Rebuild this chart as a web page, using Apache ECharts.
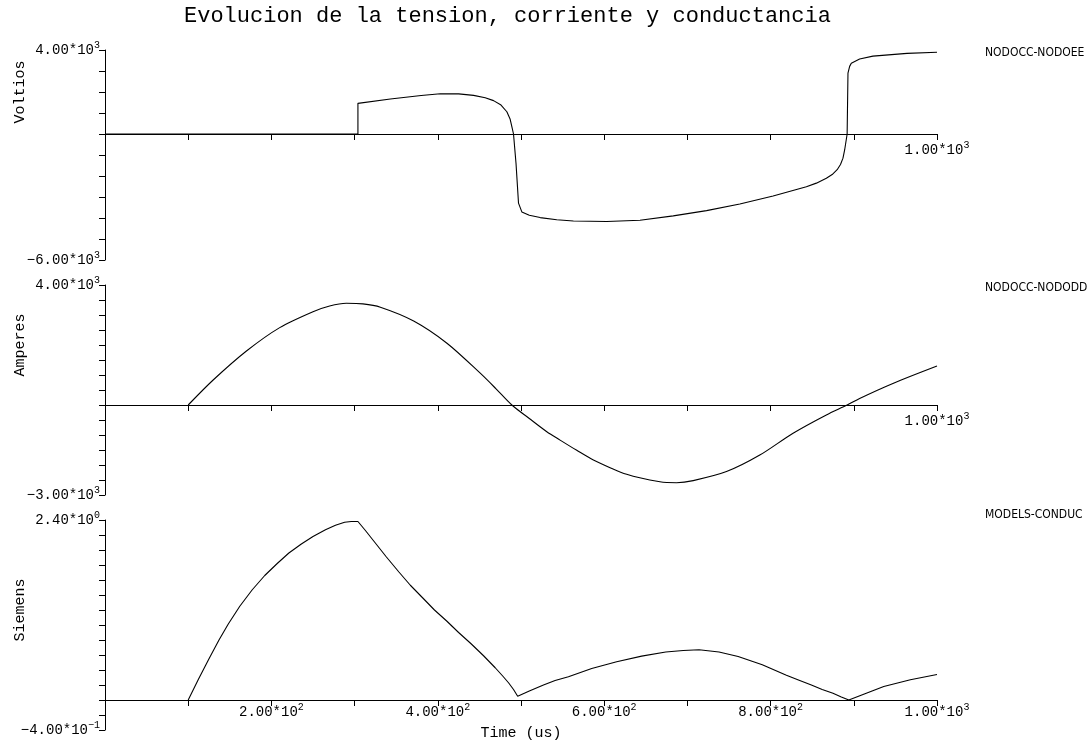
<!DOCTYPE html>
<html>
<head>
<meta charset="utf-8">
<script src="https://cdn.jsdelivr.net/npm/echarts@6/dist/echarts.min.js"></script>
<style>
  html, body { margin: 0; padding: 0; background: #fff; }
  #chart { width: 1090px; height: 744px; }
</style>
</head>
<body>
<div id="chart"></div>
<script>
// tension NODOCC-NODOEE (V) vs time (us)
var voltT = [0, 304, 304, 343, 380, 403, 425, 443, 457, 467, 476, 483, 487, 489, 491, 494, 497, 501, 510, 523, 543, 563, 603, 643, 683, 723, 763, 803, 843, 855, 867, 874, 880, 884, 887, 889, 892, 893, 895, 897, 907, 923, 964, 1000];
var voltV = [0, 0, 1460, 1670, 1830, 1920, 1910, 1840, 1730, 1590, 1380, 1060, 700, 350, 0, -1390, -3290, -3710, -3870, -3980, -4080, -4140, -4170, -4110, -3900, -3650, -3330, -2950, -2510, -2340, -2110, -1930, -1700, -1450, -1150, -760, 0, 2900, 3220, 3370, 3570, 3710, 3840, 3890];

// corriente NODOCC-NODODD (A)
var curT = [100, 130, 170, 210, 250, 270, 290, 310, 331, 371, 411, 451, 470, 489, 510, 531, 547, 567, 587, 627, 667, 687, 707, 747, 787, 827, 867, 892, 907, 947, 1000];
var curI = [0, 833, 1800, 2580, 3110, 3300, 3390, 3370, 3260, 2800, 2060, 1060, 540, 0, -450, -890, -1170, -1510, -1830, -2310, -2560, -2590, -2520, -2220, -1670, -940, -330, 0, 220, 720, 1300];

// conductancia MODELS-CONDUC (S)
var condT = [100, 112, 125, 137, 148, 162, 177, 192, 207, 221, 236, 250, 265, 277, 288, 296, 304,
  313, 323, 338, 353, 367, 382, 396, 411, 425, 440, 455, 469, 478, 485, 491, 496,
  510, 527, 541, 557, 585, 615, 645, 674, 695, 714, 738, 761, 790, 819, 835, 849, 862, 875, 885, 894,
  915, 936, 968, 1000];
var condG = [0, 0.27, 0.55, 0.8, 1.01, 1.25, 1.47, 1.66, 1.82, 1.96, 2.08, 2.18, 2.27, 2.33, 2.37, 2.38, 2.38,
  2.26, 2.12, 1.91, 1.71, 1.53, 1.36, 1.2, 1.05, 0.9, 0.75, 0.59, 0.43, 0.32, 0.23, 0.14, 0.05,
  0.12, 0.2, 0.26, 0.31, 0.42, 0.51, 0.585, 0.64, 0.66, 0.67, 0.64, 0.58, 0.47, 0.33, 0.26, 0.2, 0.14, 0.09, 0.04, 0.0,
  0.09, 0.18, 0.27, 0.34];

var panels = [
  { name: 'Voltios', tag: 'NODOCC-NODOEE', min: -6000, max: 4000, step: 1000, t: voltT, v: voltV },
  { name: 'Amperes', tag: 'NODOCC-NODODD', min: -3000, max: 4000, step: 500, t: curT, v: curI },
  { name: 'Siemens', tag: 'MODELS-CONDUC', min: -0.4, max: 2.4, step: 0.2, t: condT, v: condG }
];
var gridTops = [50, 285, 520];
var gridH = 210;
var nameY = [92, 345, 610];
var tagY = [53, 288, 515];

var MONO = '"Liberation Mono", "DejaVu Sans Mono", monospace';
var rich = {
  b: { fontFamily: MONO, fontSize: 14, color: '#000' },
  s: { fontFamily: MONO, fontSize: 10, color: '#000', padding: [0, 0, 10, 0] }
};

function sci(v) {
  var e = Math.floor(Math.log10(Math.abs(v)) + 1e-9);
  var m = (v / Math.pow(10, e)).toFixed(2).replace('-', '\u2212');
  return '{b|' + m + '*10}{s|' + String(e).replace('-', '\u2212') + '}';
}

function pairs(t, v) {
  return t.map(function (x, i) { return [x, v[i]]; });
}

var chart = echarts.init(document.getElementById('chart'));

var grids = [], xAxes = [], yAxes = [], series = [], graphics = [];
panels.forEach(function (p, i) {
  // distance from grid bottom up to the zero line
  var zeroUp = gridH * (0 - p.min) / (p.max - p.min);
  grids.push({ left: 105, right: 153, top: gridTops[i], height: gridH, outerBoundsMode: 'none', containLabel: false });
  xAxes.push({
    type: 'value', gridIndex: i, min: 0, max: 1000, interval: 100,
    position: 'bottom', offset: -zeroUp,
    axisLine: { onZero: false, lineStyle: { color: '#000', width: 1 } },
    axisTick: { length: 6, lineStyle: { color: '#000' } },
    splitLine: { show: false },
    axisLabel: {
      margin: i === 2 ? 2 : 6,
      rich: rich,
      formatter: function (v) {
        if (i === 2) return (v > 0 && v % 200 === 0) ? sci(v) : '';
        return v === 1000 ? sci(v) : '';
      }
    },
    name: i === 2 ? 'Time (us)' : '',
    nameLocation: 'middle', nameGap: 26,
    nameTextStyle: { fontFamily: MONO, fontSize: 15, color: '#000' }
  });
  yAxes.push({
    type: 'value', gridIndex: i, min: p.min, max: p.max, interval: p.step,
    axisLine: { show: true, onZero: false, lineStyle: { color: '#000', width: 1 } },
    axisTick: { show: true, length: 6, lineStyle: { color: '#000' } },
    splitLine: { show: false },
    axisLabel: {
      margin: 5, rich: rich,
      formatter: function (v) {
        if (Math.abs(v - p.max) < 1e-9) return sci(p.max);
        if (Math.abs(v - p.min) < 1e-9) return sci(p.min);
        return '';
      }
    }
  });
  series.push({
    type: 'line', xAxisIndex: i, yAxisIndex: i, name: p.tag,
    data: pairs(p.t, p.v), showSymbol: false, symbol: 'none',
    smooth: i === 1 ? 0.3 : false,
    lineStyle: { color: '#000', width: 1.1 },
    animation: false
  });
  graphics.push({
    type: 'text', x: 20, y: nameY[i], rotation: Math.PI / 2,
    style: { text: p.name, font: '15px ' + MONO, fill: '#000', align: 'center', verticalAlign: 'middle', textAlign: 'center', textVerticalAlign: 'middle' }
  });
  graphics.push({
    type: 'text', x: 985, y: tagY[i],
    style: { text: p.tag, font: '12px "DejaVu Sans Condensed", "DejaVu Sans", sans-serif', fill: '#000', align: 'left', verticalAlign: 'middle', textAlign: 'left', textVerticalAlign: 'middle' }
  });
});

chart.setOption({
  backgroundColor: '#fff',
  animation: false,
  title: {
    text: 'Evolucion de la tension, corriente y conductancia',
    left: 184, top: 5, padding: 0,
    textStyle: { fontFamily: MONO, fontSize: 22, fontWeight: 'normal', color: '#000' }
  },
  grid: grids,
  xAxis: xAxes,
  yAxis: yAxes,
  series: series,
  graphic: graphics
});
</script>
</body>
</html>
